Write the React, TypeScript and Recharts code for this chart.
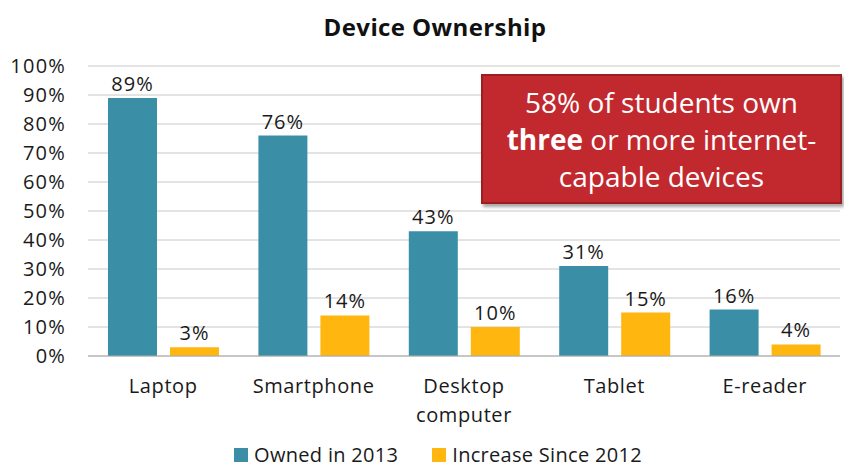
import React from "react";
import {
  BarChart,
  Bar,
  XAxis,
  YAxis,
  CartesianGrid,
  LabelList,
} from "recharts";

const categories = ["Laptop", "Smartphone", "Desktop computer", "Tablet", "E-reader"];
const owned2013 = [89, 76, 43, 31, 16];
const increaseSince2012 = [3, 14, 10, 15, 4];
const yTicks = [0, 10, 20, 30, 40, 50, 60, 70, 80, 90, 100];

const seriesNames = { owned: "Owned in 2013", increase: "Increase Since 2012" };
const TEAL = "#3A8FA7";
const GOLD = "#FFB60F";
const FONT = "'Open Sans', Lato, sans-serif";

const data = categories.map((name, i) => ({
  name,
  owned: owned2013[i],
  increase: increaseSince2012[i],
}));

const CategoryTick = (props: any) => {
  const { x, y, payload } = props;
  const label: string = payload.value;
  const lines = label === "Desktop computer" ? ["Desktop", "computer"] : [label];
  return (
    <text
      x={x}
      y={y + 29}
      textAnchor="middle"
      fill="#1a1a1a"
      fontSize={20}
      letterSpacing={0.6}
      fontFamily={FONT}
    >
      {lines.map((l, i) => (
        <tspan key={i} x={x} dy={i === 0 ? 0 : 29}>
          {l}
        </tspan>
      ))}
    </text>
  );
};

const Swatch = ({ color }: { color: string }) => (
  <span style={{ display: "inline-block", width: 14, height: 14, background: color, marginRight: 6 }} />
);

export default function App() {
  return (
    <div
      style={{
        position: "absolute",
        left: 0,
        top: 0,
        width: 844,
        height: 468,
        background: "#fff",
        fontFamily: FONT,
        overflow: "hidden",
      }}
    >
      <div
        style={{
          position: "absolute",
          top: 10,
          left: 0,
          width: 870,
          textAlign: "center",
          fontWeight: 700,
          fontSize: 24,
          letterSpacing: 0.4,
          color: "#111",
        }}
      >
        Device Ownership
      </div>
      <BarChart
        width={844}
        height={468}
        data={data}
        margin={{ top: 66, right: 4, bottom: 42, left: 0 }}
        barCategoryGap={20}
        barGap={13}
      >
        <CartesianGrid vertical={false} stroke="#c8c8c8" strokeWidth={1} />
        <XAxis
          dataKey="name"
          tickLine={false}
          axisLine={{ stroke: "#aaaaaa" }}
          tick={<CategoryTick />}
          interval={0}
          height={70}
        />
        <YAxis
          width={88}
          domain={[0, 100]}
          ticks={yTicks}
          tickFormatter={(v: number) => `${v}%`}
          axisLine={false}
          tickLine={false}
          tick={{ fill: "#1a1a1a", fontSize: 20, fontFamily: FONT, letterSpacing: 1.2 }}
          tickMargin={16}
          interval={0}
        />
        <Bar dataKey="owned" name={seriesNames.owned} fill={TEAL} isAnimationActive={false}>
          <LabelList
            dataKey="owned"
            position="top"
            offset={7}
            formatter={(v: number) => `${v}%`}
            style={{ fill: "#1a1a1a", fontSize: 20, fontFamily: FONT, letterSpacing: 1 }}
          />
        </Bar>
        <Bar dataKey="increase" name={seriesNames.increase} fill={GOLD} isAnimationActive={false}>
          <LabelList
            dataKey="increase"
            position="top"
            offset={7}
            formatter={(v: number) => `${v}%`}
            style={{ fill: "#1a1a1a", fontSize: 20, fontFamily: FONT, letterSpacing: 1 }}
          />
        </Bar>
      </BarChart>
      <div
        style={{
          position: "absolute",
          left: 0,
          top: 444,
          width: 876,
          height: 22,
          display: "flex",
          justifyContent: "center",
          alignItems: "center",
          fontSize: 20,
          letterSpacing: 0.3,
          lineHeight: "22px",
          color: "#1a1a1a",
        }}
      >
        <Swatch color={TEAL} />
        <span style={{ marginRight: 34 }}>{seriesNames.owned}</span>
        <Swatch color={GOLD} />
        <span>{seriesNames.increase}</span>
      </div>
      <div
        style={{
          position: "absolute",
          left: 481,
          top: 74,
          width: 361,
          height: 130,
          background: "#C2292E",
          border: "2px solid #9C1E22",
          boxShadow: "2px 3px 3px rgba(0,0,0,0.35)",
          color: "#fff",
          fontSize: 28,
          lineHeight: "37px",
          textAlign: "center",
          display: "flex",
          alignItems: "center",
          justifyContent: "center",
          boxSizing: "border-box",
          padding: "0 6px",
        }}
      >
        <div>
          58% of students own
          <br />
          <b>three</b> or more internet-
          <br />
          capable devices
        </div>
      </div>
    </div>
  );
}
